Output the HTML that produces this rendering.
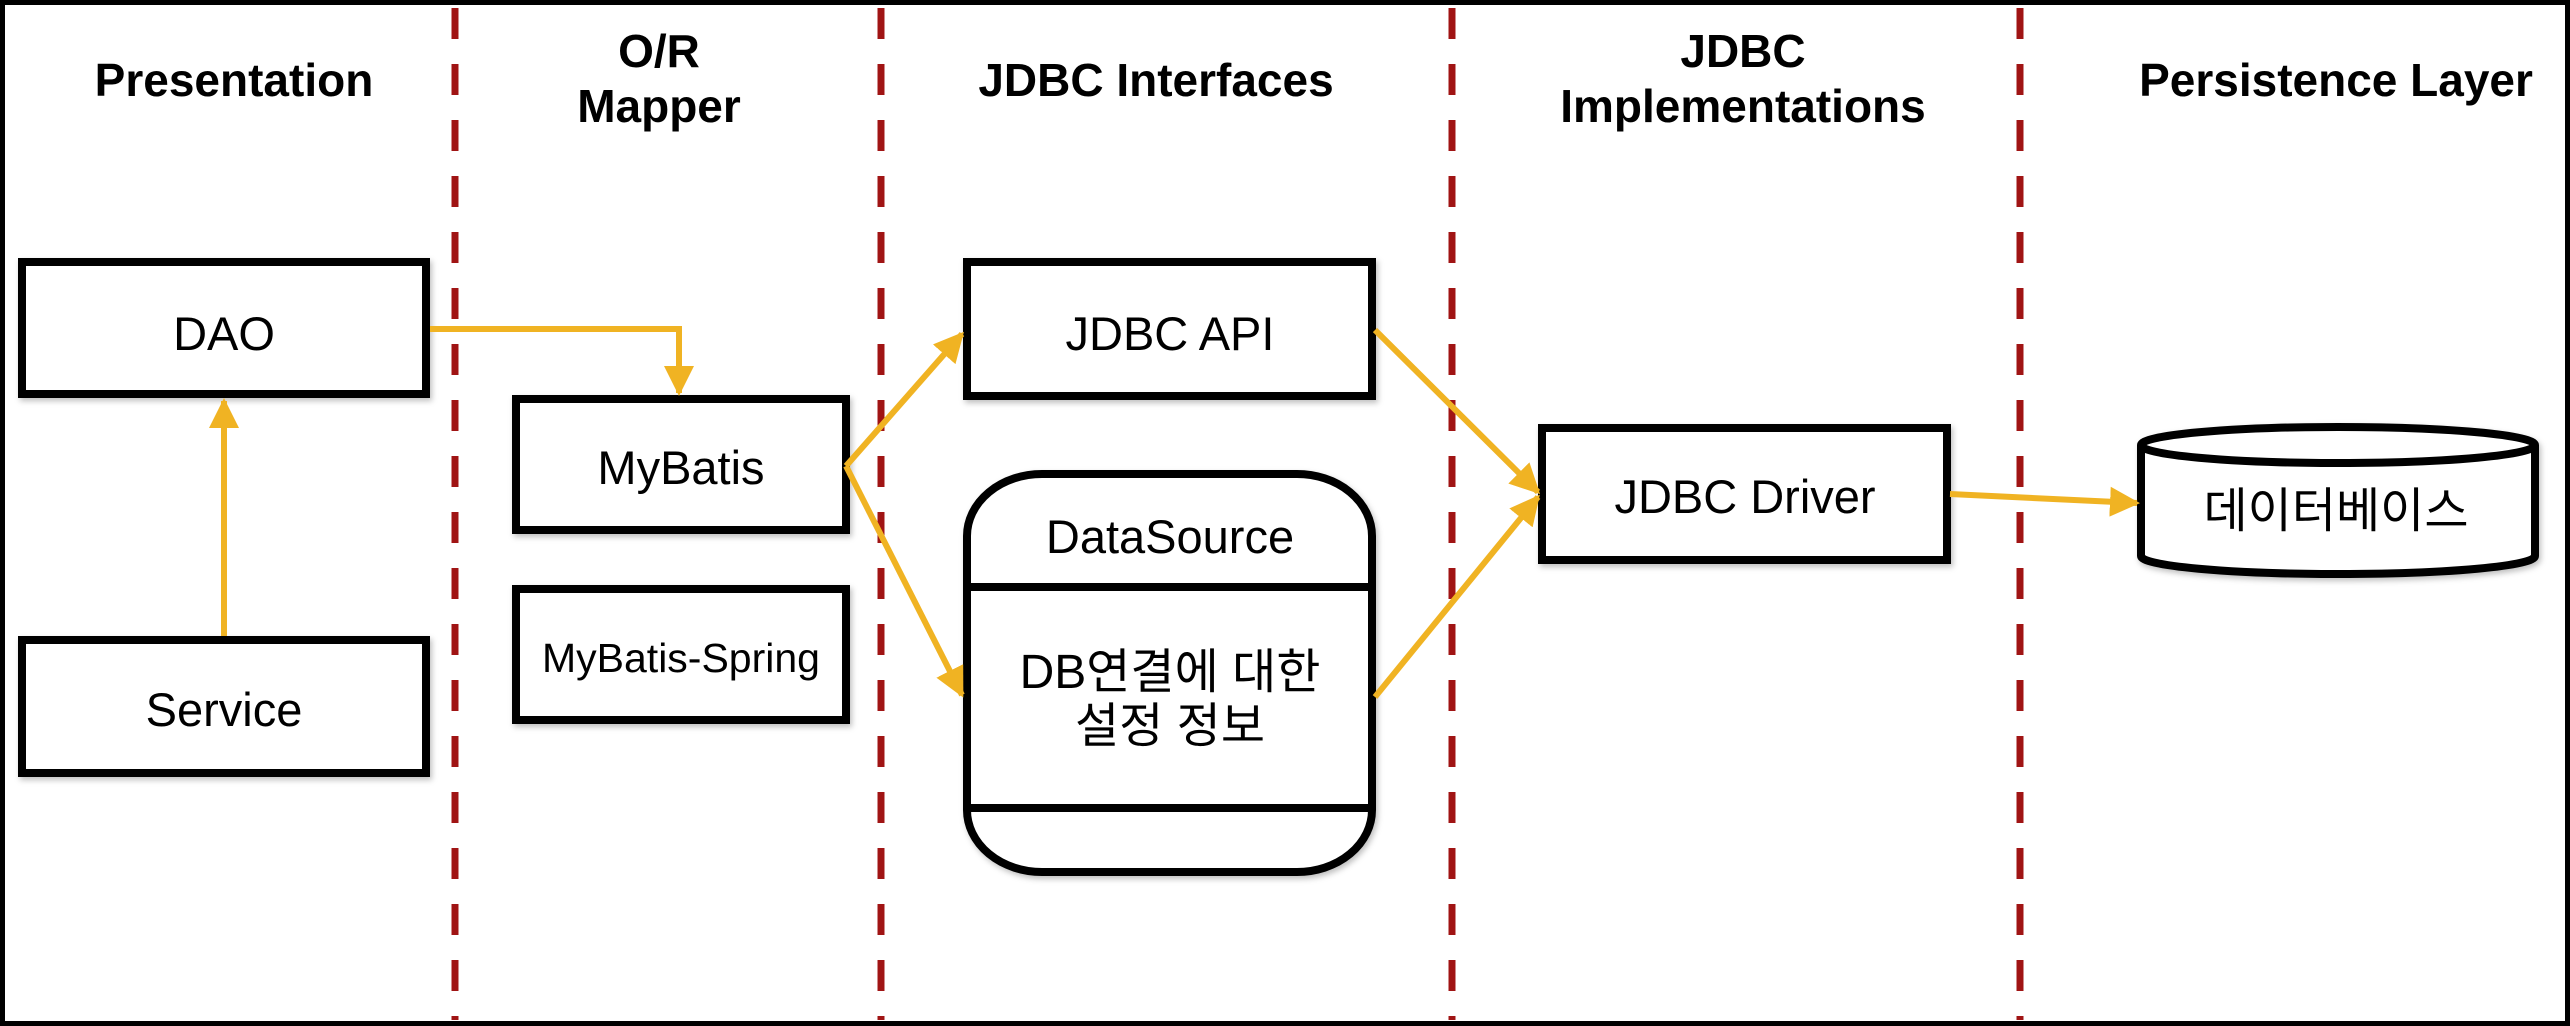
<!DOCTYPE html>
<html><head><meta charset="utf-8"><style>
html,body{margin:0;padding:0;background:#fff;overflow:hidden;}
svg{display:block;}
text{font-family:"Liberation Sans","Noto Sans CJK KR",sans-serif;fill:#000;}
.h{font-weight:bold;font-size:46px;text-anchor:middle;}
.n{font-size:47px;text-anchor:middle;}
.k{font-size:48px;}
.b{fill:#fff;stroke:#000;stroke-width:8;}
.a{stroke:#f0b323;stroke-width:6;fill:none;}
.d{stroke:#a01414;stroke-width:7;stroke-dasharray:31 25;}
</style></head><body>
<svg width="2570" height="1026" viewBox="0 0 2570 1026" xmlns="http://www.w3.org/2000/svg">
<defs>
<marker id="m" viewBox="0 0 10 10" refX="9" refY="5" markerWidth="5" markerHeight="5" orient="auto"><path d="M0,0 L10,5 L0,10 z" fill="#f0b323"/></marker>
<filter id="s" x="-10%" y="-10%" width="120%" height="130%"><feDropShadow dx="2" dy="3" stdDeviation="3" flood-color="#000" flood-opacity="0.25"/></filter>
</defs>
<rect x="2.5" y="2.5" width="2565" height="1021" fill="#fff" stroke="#000" stroke-width="5"/>
<line class="d" x1="455" y1="8" x2="455" y2="1020"/>
<line class="d" x1="881" y1="8" x2="881" y2="1020"/>
<line class="d" x1="1452" y1="8" x2="1452" y2="1020"/>
<line class="d" x1="2020" y1="8" x2="2020" y2="1020"/>

<text class="h" x="234" y="96">Presentation</text>
<text class="h" x="659" y="67">O/R</text>
<text class="h" x="659" y="122">Mapper</text>
<text class="h" x="1156" y="96">JDBC Interfaces</text>
<text class="h" x="1743" y="67">JDBC</text>
<text class="h" x="1743" y="122">Implementations</text>
<text class="h" x="2336" y="96">Persistence Layer</text>

<g filter="url(#s)">
<rect class="b" x="22" y="262" width="404" height="132"/>
<rect class="b" x="22" y="640" width="404" height="133"/>
<rect class="b" x="516" y="399" width="330" height="131"/>
<rect class="b" x="516" y="589" width="330" height="131"/>
<rect class="b" x="967" y="262" width="405" height="134"/>
<rect class="b" x="967" y="474" width="405" height="398" rx="75" ry="62"/>
<rect class="b" x="1542" y="428" width="405" height="132"/>
<path class="b" d="M2141,445 L2141,556 A197,18 0 0 0 2535,556 L2535,445 A197,18 0 0 0 2141,445 Z"/>
<path d="M2141,445 A197,18 0 0 0 2535,445" fill="none" stroke="#000" stroke-width="8"/>
</g>
<line x1="967" y1="587" x2="1372" y2="587" stroke="#000" stroke-width="8"/>
<line x1="967" y1="808" x2="1372" y2="808" stroke="#000" stroke-width="8"/>

<text class="n" x="224" y="350">DAO</text>
<text class="n" x="224" y="726">Service</text>
<text class="n" x="681" y="484">MyBatis</text>
<text class="n" x="681" y="672" style="font-size:41px">MyBatis-Spring</text>
<text class="n" x="1170" y="350">JDBC API</text>
<text class="n" x="1170" y="553">DataSource</text>
<text class="n k" x="1170" y="688">DB연결에 대한</text>
<text class="n k" x="1170" y="742">설정 정보</text>
<text class="n" x="1745" y="513">JDBC Driver</text>
<text class="n k" x="2336" y="527">데이터베이스</text>

<path class="a" marker-end="url(#m)" d="M430,329 L679,329 L679,393"/>
<path class="a" marker-end="url(#m)" d="M224,636 L224,401"/>
<path class="a" marker-end="url(#m)" d="M846,466 L962,334"/>
<path class="a" marker-end="url(#m)" d="M846,466 L962,695"/>
<path class="a" marker-end="url(#m)" d="M1375,330 L1538,492"/>
<path class="a" marker-end="url(#m)" d="M1375,697 L1538,497"/>
<path class="a" marker-end="url(#m)" d="M1950,494 L2137,503"/>
</svg>
</body></html>
